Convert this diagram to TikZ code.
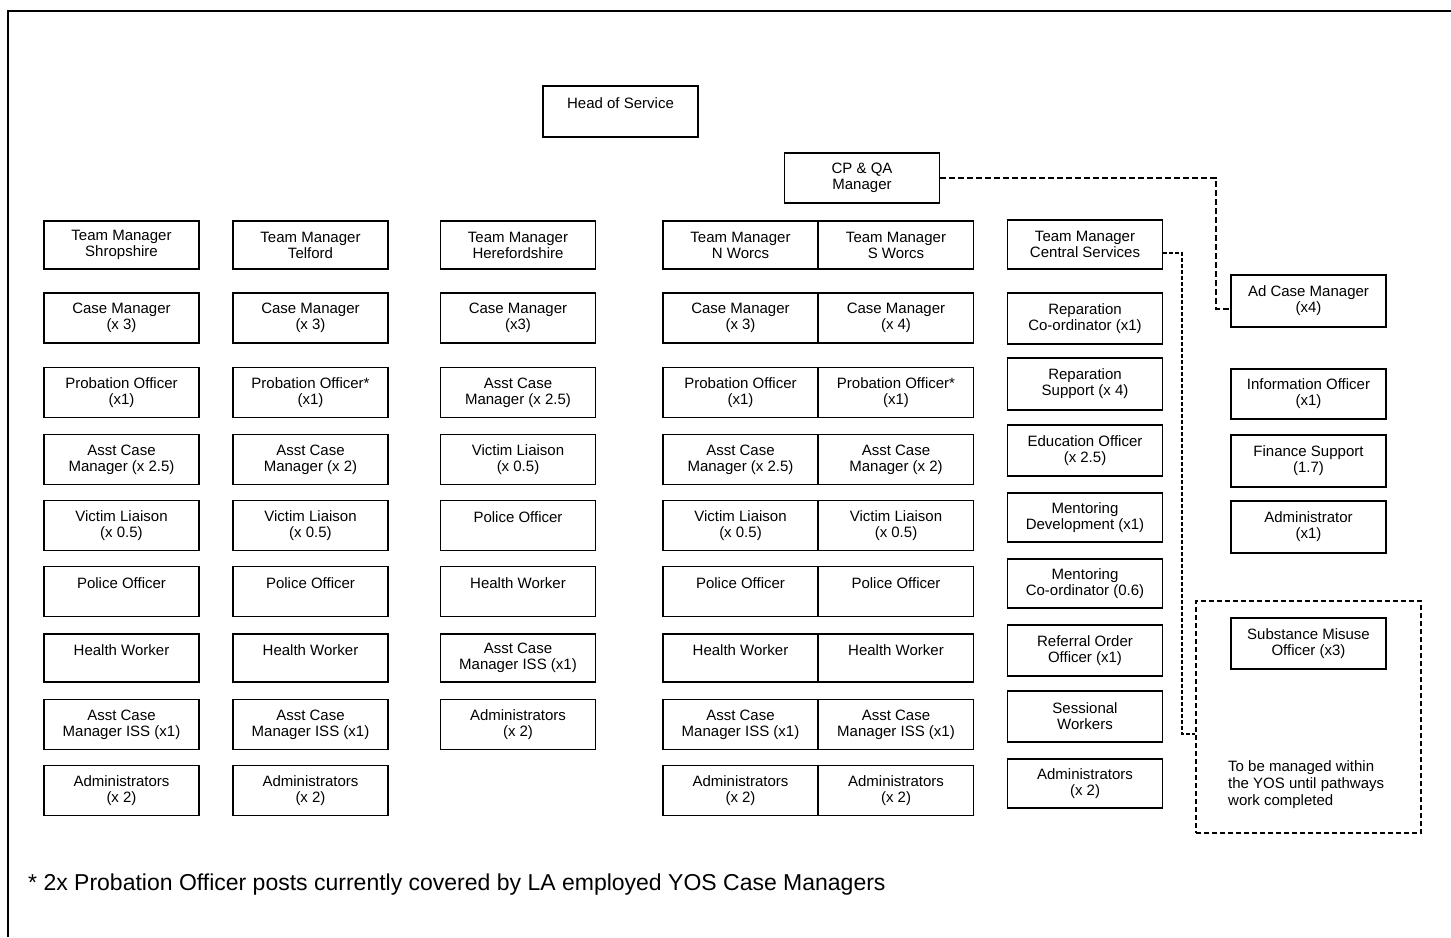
\documentclass[tikz,border=0pt]{standalone}
\usepackage{fontspec}
\setmainfont{Liberation Sans}
\begin{document}
\begin{tikzpicture}[x=1pt,y=-1pt,
  box/.style={draw, line width=1.5pt, inner sep=0pt, minimum width=155pt, minimum height=50pt,
    align=center, font=\fontsize{15}{16}\selectfont},
  link/.style={line width=1.4pt, dash pattern=on 6pt off 3pt},
  link2/.style={line width=1.4pt, dash pattern=on 4pt off 2pt},
  dbox/.style={draw, line width=1.4pt, dash pattern=on 5pt off 3pt, inner sep=0pt}]
\useasboundingbox (0,0) rectangle (1451,937);
\draw[line width=1.3pt] (8,937) -- (8,11) -- (1451,11);

\node[box, minimum height=51pt] (head) at (620.5,111.5) {Head of Service\\~};
\node[box] (cpqa) at (862,178) {CP \& QA\\Manager};

% Column A: Shropshire
\node[box, minimum height=48pt] (a1) at (121.5,245) {Team Manager\\Shropshire};
\node[box] (a2) at (121.5,318) {Case Manager\\(x 3)};
\node[box] (a3) at (121.5,392.5) {Probation Officer\\(x1)};
\node[box] (a4) at (121.5,459.5) {Asst Case\\Manager (x 2.5)};
\node[box] (a5) at (121.5,525.5) {Victim Liaison\\(x 0.5)};
\node[box] (a6) at (121.5,591.5) {Police Officer\\~};
\node[box, minimum height=48pt] (a7) at (121.5,658) {Health Worker\\~};
\node[box] (a8) at (121.5,724.5) {Asst Case\\Manager ISS (x1)};
\node[box] (a9) at (121.5,790.5) {Administrators\\(x 2)};

% Column B: Telford
\node[box, minimum height=48pt] (b1) at (310.5,245) {Team Manager\\Telford};
\node[box] (b2) at (310.5,318) {Case Manager\\(x 3)};
\node[box] (b3) at (310.5,392.5) {Probation Officer*\\(x1)};
\node[box] (b4) at (310.5,459.5) {Asst Case\\Manager (x 2)};
\node[box] (b5) at (310.5,525.5) {Victim Liaison\\(x 0.5)};
\node[box] (b6) at (310.5,591.5) {Police Officer\\~};
\node[box, minimum height=48pt] (b7) at (310.5,658) {Health Worker\\~};
\node[box] (b8) at (310.5,724.5) {Asst Case\\Manager ISS (x1)};
\node[box] (b9) at (310.5,790.5) {Administrators\\(x 2)};

% Column C: Herefordshire
\node[box, minimum height=48pt] (c1) at (518,245) {Team Manager\\Herefordshire};
\node[box] (c2) at (518,318) {Case Manager\\(x3)};
\node[box] (c3) at (518,392.5) {Asst Case\\Manager (x 2.5)};
\node[box] (c4) at (518,459.5) {Victim Liaison\\(x 0.5)};
\node[box] (c5) at (518,525.5) {Police Officer\\~};
\node[box] (c6) at (518,591.5) {Health Worker\\~};
\node[box, minimum height=48pt] (c7) at (518,658) {Asst Case\\Manager ISS (x1)};
\node[box] (c8) at (518,724.5) {Administrators\\(x 2)};

% Column D: N Worcs
\node[box, minimum height=48pt] (d1) at (740.5,245) {Team Manager\\N Worcs};
\node[box] (d2) at (740.5,318) {Case Manager\\(x 3)};
\node[box] (d3) at (740.5,392.5) {Probation Officer\\(x1)};
\node[box] (d4) at (740.5,459.5) {Asst Case\\Manager (x 2.5)};
\node[box] (d5) at (740.5,525.5) {Victim Liaison\\(x 0.5)};
\node[box] (d6) at (740.5,591.5) {Police Officer\\~};
\node[box, minimum height=48pt] (d7) at (740.5,658) {Health Worker\\~};
\node[box] (d8) at (740.5,724.5) {Asst Case\\Manager ISS (x1)};
\node[box] (d9) at (740.5,790.5) {Administrators\\(x 2)};

% Column E: S Worcs
\node[box, minimum height=48pt] (e1) at (896,245) {Team Manager\\S Worcs};
\node[box] (e2) at (896,318) {Case Manager\\(x 4)};
\node[box] (e3) at (896,392.5) {Probation Officer*\\(x1)};
\node[box] (e4) at (896,459.5) {Asst Case\\Manager (x 2)};
\node[box] (e5) at (896,525.5) {Victim Liaison\\(x 0.5)};
\node[box] (e6) at (896,591.5) {Police Officer\\~};
\node[box, minimum height=48pt] (e7) at (896,658) {Health Worker\\~};
\node[box] (e8) at (896,724.5) {Asst Case\\Manager ISS (x1)};
\node[box] (e9) at (896,790.5) {Administrators\\(x 2)};

% Column F: Central Services
\node[box, minimum height=49pt] (f1) at (1085,244.5) {Team Manager\\Central Services};
\node[box, minimum height=51pt] (f2) at (1085,318.5) {Reparation\\Co-ordinator (x1)};
\node[box, minimum height=52pt] (f3) at (1085,384) {Reparation\\Support (x 4)};
\node[box, minimum height=51pt] (f4) at (1085,450.5) {Education Officer\\(x 2.5)};
\node[box, minimum height=49pt] (f5) at (1085,517.5) {Mentoring\\Development (x1)};
\node[box, minimum height=49pt] (f6) at (1085,583.5) {Mentoring\\Co-ordinator (0.6)};
\node[box, minimum height=51pt] (f7) at (1085,650.5) {Referral Order\\Officer (x1)};
\node[box, minimum height=51pt] (f8) at (1085,716.5) {Sessional\\Workers};
\node[box, minimum height=49pt] (f9) at (1085,783.5) {Administrators\\(x 2)};

% Column G
\node[box, minimum height=52pt] (g1) at (1308.5,301) {Ad Case Manager\\(x4)};
\node[box] (g2) at (1308.5,394) {Information Officer\\(x1)};
\node[box, minimum height=52pt] (g3) at (1308.5,461) {Finance Support\\(1.7)};
\node[box, minimum height=52pt] (g4) at (1308.5,527) {Administrator\\(x1)};
\node[box, minimum height=51pt] (g5) at (1308.5,643.5) {Substance Misuse\\Officer (x3)};

% dashed group box
\node[dbox, minimum width=225pt, minimum height=232pt] (grp) at (1308.5,717) {};
\node[anchor=north west, inner sep=0pt, align=left, font=\fontsize{15}{17}\selectfont] (grptxt) at (1228,760)
  {To be managed within\\the YOS until pathways\\work completed};

% connectors
\coordinate (k1) at (1216,178);
\coordinate (k1b) at (1216,309);
\draw[link] (cpqa.east) -- (k1) -- (k1b) -- (g1.west |- k1b);
\coordinate (k2) at (1182,253);
\coordinate (k3) at (1182,734);
\draw[link2] (f1.east |- k2) -- (k2) -- (k3) -- (grp.west |- k3);

% footnote
\node[anchor=base west, inner sep=0pt, font=\fontsize{23}{26}\selectfont] (note) at (28,890)
  {* 2x Probation Officer posts currently covered by LA employed YOS Case Managers};
\end{tikzpicture}
\end{document}
